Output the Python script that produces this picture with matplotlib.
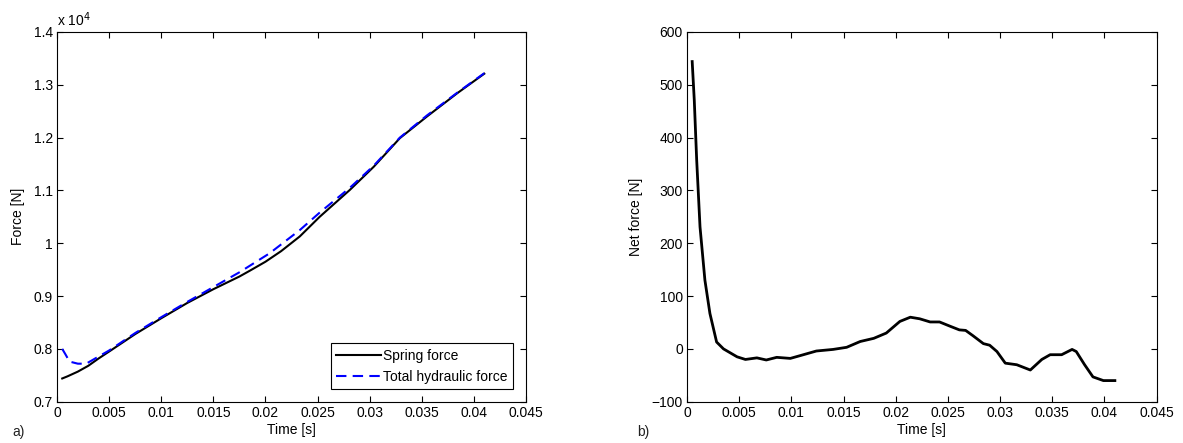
import numpy as np
import matplotlib.pyplot as plt

plt.rcParams['font.family'] = ['Liberation Sans', 'DejaVu Sans']
plt.rcParams['font.size'] = 10

# a) spring force vs total hydraulic force (x 10^4 N)
t_spring = [0.0005, 0.001, 0.002, 0.003, 0.004, 0.005, 0.0075, 0.01, 0.0125, 0.015,
            0.0175, 0.0185, 0.02, 0.0215, 0.0233, 0.0252, 0.0281, 0.0304, 0.0329,
            0.0355, 0.0384, 0.041]
f_spring = [0.744, 0.748, 0.757, 0.768, 0.782, 0.795, 0.828, 0.858, 0.887, 0.913,
            0.937, 0.948, 0.965, 0.985, 1.013, 1.050, 1.101, 1.145, 1.199,
            1.240, 1.284, 1.321]

t_hydr = [0.0005, 0.0008, 0.0012, 0.002, 0.0028, 0.0035, 0.005, 0.0075, 0.01, 0.0125,
          0.015, 0.0175, 0.0204, 0.0233, 0.0252, 0.0281, 0.0304, 0.0329, 0.0355,
          0.0384, 0.041]
f_hydr = [0.800, 0.790, 0.776, 0.772, 0.772, 0.780, 0.797, 0.830, 0.860, 0.889,
          0.917, 0.945, 0.981, 1.025, 1.058, 1.105, 1.147, 1.200, 1.242,
          1.285, 1.322]

# b) net force
t_net = [0.0005, 0.0007, 0.00093, 0.00125, 0.00172, 0.0022, 0.00284, 0.0035, 0.0048,
         0.0056, 0.0067, 0.0076, 0.0086, 0.0099, 0.0108, 0.0124, 0.014, 0.0153, 0.0166,
         0.0179, 0.0191, 0.0204, 0.0214, 0.0223, 0.0233, 0.0242, 0.0252, 0.0261, 0.0267,
         0.0274, 0.0284, 0.029, 0.0297, 0.0305, 0.0316, 0.0329, 0.034, 0.0348, 0.0359,
         0.0369, 0.0373, 0.0381, 0.0389, 0.0399, 0.041]
f_net = [544, 471, 358, 231, 130, 67, 13, 0, -15,
         -20, -17, -21, -16, -18, -13, -4, -1, 3, 14,
         20, 30, 52, 60, 57, 51, 51, 43, 36, 35,
         25, 10, 7, -5, -27, -30, -40, -20, -11, -11,
         -1, -5, -30, -53, -60, -60]

x_ticks = [0, 0.005, 0.01, 0.015, 0.02, 0.025, 0.03, 0.035, 0.04, 0.045]
x_ticklabels = ['0', '0.005', '0.01', '0.015', '0.02', '0.025', '0.03', '0.035', '0.04', '0.045']
f_ticks = [0.7, 0.8, 0.9, 1.0, 1.1, 1.2, 1.3, 1.4]
f_ticklabels = ['0.7', '0.8', '0.9', '1', '1.1', '1.2', '1.3', '1.4']
net_ticks = [-100, 0, 100, 200, 300, 400, 500, 600]

fig = plt.figure(figsize=(11.83, 4.43), dpi=100)
ax1 = fig.add_axes([0.0482, 0.0932, 0.3964, 0.8346])
ax2 = fig.add_axes([0.5807, 0.0932, 0.397, 0.8346])

ax1.plot(t_spring, f_spring, color='black', lw=1.5, label='Spring force')
ax1.plot(t_hydr, f_hydr, color='blue', lw=1.5, ls=(0, (5, 3)), label='Total hydraulic force')
ax1.set_xlim(0, 0.045)
ax1.set_ylim(0.7, 1.4)
ax1.set_yticks(f_ticks)
ax1.set_yticklabels(f_ticklabels)
ax1.set_xlabel('Time [s]', labelpad=2)
ax1.set_ylabel('Force [N]', labelpad=6)
ax1.text(0.0, 1.008, r'x 10$^{4}$', transform=ax1.transAxes, ha='left', va='bottom')
leg = ax1.legend(loc='lower right', fancybox=False, edgecolor='black', framealpha=1,
                 handlelength=3.2, borderaxespad=0.9, handletextpad=0.2)
leg.get_frame().set_linewidth(0.8)

ax2.plot(t_net, f_net, color='black', lw=2)
ax2.set_xlim(0, 0.045)
ax2.set_ylim(-100, 600)
ax2.set_yticks(net_ticks)
ax2.set_xlabel('Time [s]', labelpad=2)
ax2.set_ylabel('Net force [N]', labelpad=6)

for ax in (ax1, ax2):
    ax.set_xticks(x_ticks)
    ax.set_xticklabels(x_ticklabels)
    ax.tick_params(direction='in', top=True, right=True, length=4, width=0.8, pad=3)
    for s in ax.spines.values():
        s.set_linewidth(0.8)

fig.text(12 / 1183, 1 - 432 / 443, 'a)', ha='left', va='center', fontsize=10, color='#222222')
fig.text(637 / 1183, 1 - 432 / 443, 'b)', ha='left', va='center', fontsize=10, color='#222222')

fig.savefig('out.png', dpi=100)
